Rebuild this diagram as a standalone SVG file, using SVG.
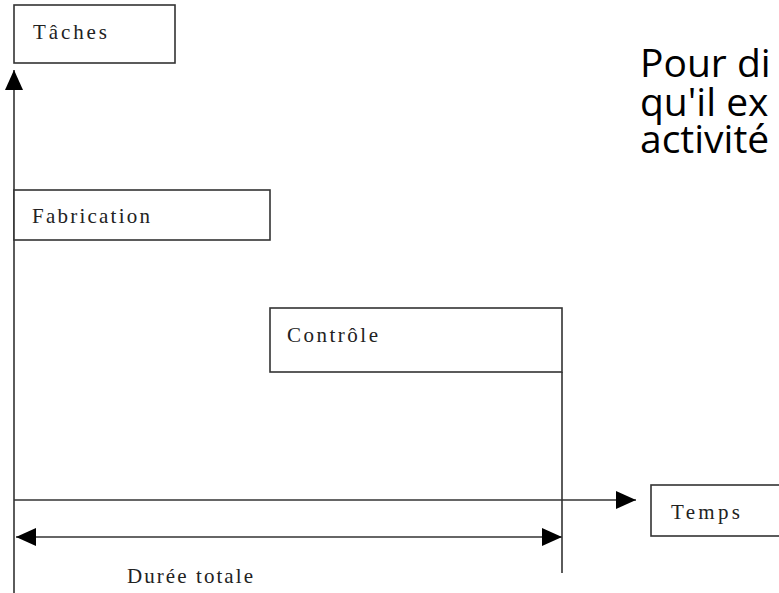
<svg xmlns="http://www.w3.org/2000/svg" width="779" height="593" viewBox="0 0 779 593">
<style>
.box{fill:#fff;stroke:#333;stroke-width:1.6}
.lbl{font-family:"Liberation Serif",serif;font-size:21px;fill:#222}
.ln{stroke:#333;stroke-width:1.6;fill:none}
.big{font-family:"Open Sans","Noto Sans",sans-serif;font-size:39px;fill:#000}
</style>
<defs>
<marker id="ah" viewBox="0 0 20 18" refX="20" refY="9" markerWidth="20" markerHeight="18" markerUnits="userSpaceOnUse" orient="auto-start-reverse">
<path d="M0,0 L20,9 L0,18 Z" fill="#000"/>
</marker>
</defs>
<rect width="779" height="593" fill="#fff"/>
<g id="connectors">
<line class="ln" x1="14" y1="593" x2="14" y2="70" marker-end="url(#ah)"/>
<line class="ln" x1="14" y1="500" x2="636" y2="500" marker-end="url(#ah)"/>
<line class="ln" x1="16" y1="537" x2="562" y2="537" marker-start="url(#ah)" marker-end="url(#ah)"/>
<line class="ln" x1="562" y1="372" x2="562" y2="573"/>
</g>
<g id="taches">
<rect class="box" x="14" y="5" width="161" height="58"/>
<text class="lbl" x="33" y="39" textLength="74" lengthAdjust="spacing">Tâches</text>
</g>
<g id="fabrication">
<rect class="box" x="14" y="190" width="256" height="50"/>
<text class="lbl" x="32" y="223" textLength="118" lengthAdjust="spacing">Fabrication</text>
</g>
<g id="controle">
<rect class="box" x="270" y="308" width="292" height="64"/>
<text class="lbl" x="287" y="342" textLength="91" lengthAdjust="spacing">Contrôle</text>
</g>
<g id="temps">
<rect class="box" x="651" y="485" width="140" height="51"/>
<text class="lbl" x="671" y="519" textLength="69" lengthAdjust="spacing">Temps</text>
</g>
<g id="duree">
<text class="lbl" x="127" y="583" textLength="126" lengthAdjust="spacing">Durée totale</text>
</g>
<g id="texte">
<text class="big" x="640" y="77">Pour di</text>
<text class="big" x="640" y="116">qu'il ex</text>
<text class="big" x="640" y="153">activité</text>
</g>
</svg>
